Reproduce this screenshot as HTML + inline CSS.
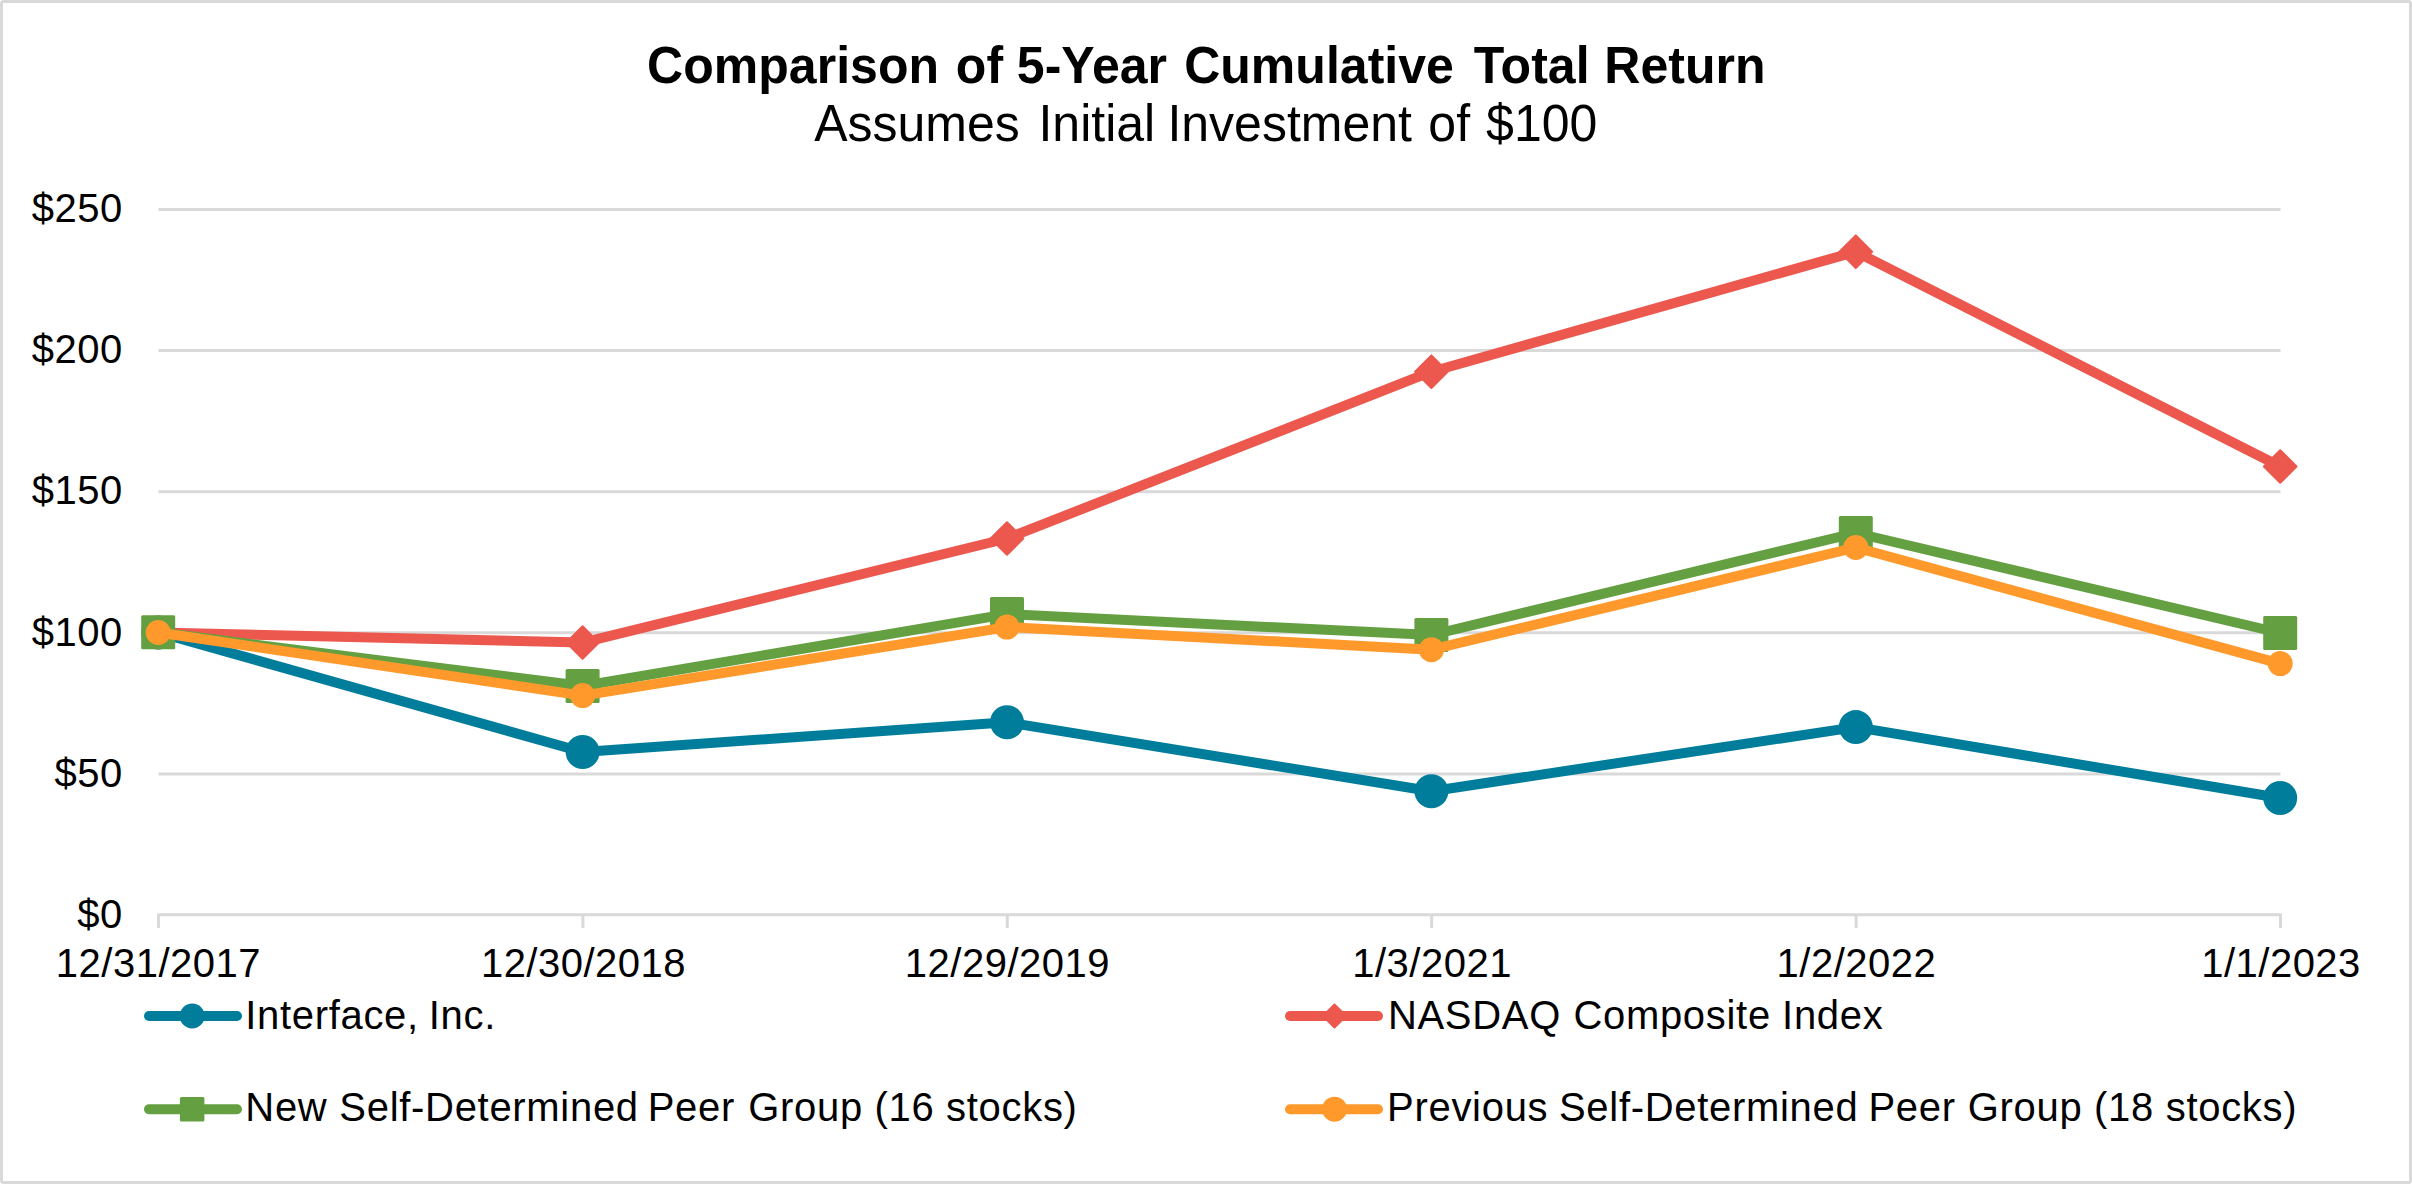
<!DOCTYPE html>
<html lang="en">
<head>
<meta charset="utf-8">
<title>Comparison of 5-Year Cumulative Total Return</title>
<style>
html,body{margin:0;padding:0;background:#fff;}
body{width:2412px;height:1184px;overflow:hidden;}
svg{display:block;}
text{font-family:"Liberation Sans",sans-serif;fill:#000;}
.t1{font-size:50px;font-weight:700;}
.t2{font-size:50px;}
.ax{font-size:40px;}
</style>
</head>
<body>
<svg width="2412" height="1184" viewBox="0 0 2412 1184">
<rect x="0" y="0" width="2412" height="1184" fill="#fff"/>
<rect x="1.5" y="1.5" width="2409" height="1181" rx="2" ry="2" fill="#fff" stroke="#d9d9d9" stroke-width="3"/>
<g stroke="#d9d9d9" stroke-width="3" fill="none">
<line x1="158.5" y1="209.5" x2="2280.5" y2="209.5"/>
<line x1="158.5" y1="350.6" x2="2280.5" y2="350.6"/>
<line x1="158.5" y1="491.7" x2="2280.5" y2="491.7"/>
<line x1="158.5" y1="632.8" x2="2280.5" y2="632.8"/>
<line x1="158.5" y1="773.9" x2="2280.5" y2="773.9"/>
<path d="M158.5 928 V914.8 H2280.5 V928" stroke-linejoin="round"/>
<line x1="582.9" y1="914.8" x2="582.9" y2="928"/>
<line x1="1007.3" y1="914.8" x2="1007.3" y2="928"/>
<line x1="1431.7" y1="914.8" x2="1431.7" y2="928"/>
<line x1="1856.1" y1="914.8" x2="1856.1" y2="928"/>
</g>
<g>
<polyline points="158.2,632.5 582.6,752.0 1007.0,722.3 1431.4,791.2 1855.8,727.1 2280.2,798.0" fill="none" stroke="#017d9c" stroke-width="10" stroke-linejoin="round" stroke-linecap="round"/>
<circle cx="158.2" cy="632.5" r="17.0" fill="#017d9c"/>
<circle cx="582.6" cy="752.0" r="17.0" fill="#017d9c"/>
<circle cx="1007.0" cy="722.3" r="17.0" fill="#017d9c"/>
<circle cx="1431.4" cy="791.2" r="17.0" fill="#017d9c"/>
<circle cx="1855.8" cy="727.1" r="17.0" fill="#017d9c"/>
<circle cx="2280.2" cy="798.0" r="17.0" fill="#017d9c"/>
</g>
<g>
<polyline points="158.2,632.5 582.6,642.6 1007.0,538.5 1431.4,371.7 1855.8,251.7 2280.2,466.5" fill="none" stroke="#ec584d" stroke-width="10" stroke-linejoin="round" stroke-linecap="round"/>
<path d="M158.2 616.2 L174.5 632.5 L158.2 648.8 L141.9 632.5 Z" fill="#ec584d" stroke="#ec584d" stroke-width="2" stroke-linejoin="round"/>
<path d="M582.6 626.3 L598.9 642.6 L582.6 658.9 L566.3 642.6 Z" fill="#ec584d" stroke="#ec584d" stroke-width="2" stroke-linejoin="round"/>
<path d="M1007.0 522.2 L1023.3 538.5 L1007.0 554.8 L990.7 538.5 Z" fill="#ec584d" stroke="#ec584d" stroke-width="2" stroke-linejoin="round"/>
<path d="M1431.4 355.4 L1447.7 371.7 L1431.4 388.0 L1415.1 371.7 Z" fill="#ec584d" stroke="#ec584d" stroke-width="2" stroke-linejoin="round"/>
<path d="M1855.8 235.4 L1872.1 251.7 L1855.8 268.0 L1839.5 251.7 Z" fill="#ec584d" stroke="#ec584d" stroke-width="2" stroke-linejoin="round"/>
<path d="M2280.2 450.2 L2296.5 466.5 L2280.2 482.8 L2263.9 466.5 Z" fill="#ec584d" stroke="#ec584d" stroke-width="2" stroke-linejoin="round"/>
</g>
<g>
<polyline points="158.2,632.3 582.6,686.0 1007.0,614.1 1431.4,635.0 1855.8,533.0 2280.2,633.0" fill="none" stroke="#64a042" stroke-width="10" stroke-linejoin="round" stroke-linecap="round"/>
<rect x="141.2" y="615.3" width="34.0" height="34.0" rx="1.5" fill="#64a042"/>
<rect x="565.6" y="669.0" width="34.0" height="34.0" rx="1.5" fill="#64a042"/>
<rect x="990.0" y="597.1" width="34.0" height="34.0" rx="1.5" fill="#64a042"/>
<rect x="1414.4" y="618.0" width="34.0" height="34.0" rx="1.5" fill="#64a042"/>
<rect x="1838.8" y="516.0" width="34.0" height="34.0" rx="1.5" fill="#64a042"/>
<rect x="2263.2" y="616.0" width="34.0" height="34.0" rx="1.5" fill="#64a042"/>
</g>
<g>
<polyline points="158.2,632.5 582.6,695.6 1007.0,627.1 1431.4,649.7 1855.8,547.5 2280.2,663.6" fill="none" stroke="#ff992b" stroke-width="10" stroke-linejoin="round" stroke-linecap="round"/>
<circle cx="158.2" cy="632.5" r="12.5" fill="#ff992b"/>
<circle cx="582.6" cy="695.6" r="12.5" fill="#ff992b"/>
<circle cx="1007.0" cy="627.1" r="12.5" fill="#ff992b"/>
<circle cx="1431.4" cy="649.7" r="12.5" fill="#ff992b"/>
<circle cx="1855.8" cy="547.5" r="12.5" fill="#ff992b"/>
<circle cx="2280.2" cy="663.6" r="12.5" fill="#ff992b"/>
</g>
<line x1="149" y1="1016" x2="237" y2="1016" stroke="#017d9c" stroke-width="10" stroke-linecap="round"/>
<circle cx="192.2" cy="1016.0" r="12.5" fill="#017d9c"/>
<line x1="1290" y1="1016" x2="1378" y2="1016" stroke="#ec584d" stroke-width="10" stroke-linecap="round"/>
<path d="M1334.5 1004.5 L1346.0 1016.0 L1334.5 1027.5 L1323.0 1016.0 Z" fill="#ec584d" stroke="#ec584d" stroke-width="2" stroke-linejoin="round"/>
<line x1="149" y1="1109.2" x2="237" y2="1109.2" stroke="#64a042" stroke-width="10" stroke-linecap="round"/>
<rect x="179.9" y="1097.0" width="24.5" height="24.5" rx="1.5" fill="#64a042"/>
<line x1="1290" y1="1109.2" x2="1378" y2="1109.2" stroke="#ff992b" stroke-width="10" stroke-linecap="round"/>
<circle cx="1334.5" cy="1109.2" r="12.5" fill="#ff992b"/>
<text class="t1" y="83.0" transform="matrix(1 0 0 1.030 0 -2.490)"><tspan x="647.09" letter-spacing="0.03">Comparison</tspan> <tspan x="955.81" letter-spacing="0.03">of</tspan> <tspan x="1016.83" letter-spacing="0.03">5-Year</tspan> <tspan x="1184.14" letter-spacing="0.03">Cumulative</tspan> <tspan x="1473.72" letter-spacing="0.03">Total</tspan> <tspan x="1604.35" letter-spacing="0.03">Return</tspan></text>
<text class="t2" y="141.2" transform="matrix(1 0 0 1.030 0 -4.236)"><tspan x="814.15" letter-spacing="0.00">Assumes</tspan> <tspan x="1038.45" letter-spacing="0.00">Initial</tspan> <tspan x="1167.42" letter-spacing="0.00">Investment</tspan> <tspan x="1428.38" letter-spacing="0.00">of</tspan> <tspan x="1486.08" letter-spacing="0.00">$100</tspan></text>
<text class="ax" y="222.3" transform="matrix(1 0 0 1.030 0 -6.669)"><tspan x="31.80" letter-spacing="0.50">$250</tspan></text>
<text class="ax" y="363.4" transform="matrix(1 0 0 1.030 0 -10.902)"><tspan x="31.80" letter-spacing="0.50">$200</tspan></text>
<text class="ax" y="504.5" transform="matrix(1 0 0 1.030 0 -15.135)"><tspan x="31.80" letter-spacing="0.50">$150</tspan></text>
<text class="ax" y="645.6" transform="matrix(1 0 0 1.030 0 -19.368)"><tspan x="31.80" letter-spacing="0.50">$100</tspan></text>
<text class="ax" y="786.7" transform="matrix(1 0 0 1.030 0 -23.601)"><tspan x="54.55" letter-spacing="0.50">$50</tspan></text>
<text class="ax" y="927.8" transform="matrix(1 0 0 1.030 0 -27.834)"><tspan x="77.30" letter-spacing="0.50">$0</tspan></text>
<text class="ax" y="977.2" transform="matrix(1 0 0 1.030 0 -29.316)"><tspan x="55.82" letter-spacing="0.50">12/31/2017</tspan></text>
<text class="ax" y="977.2" transform="matrix(1 0 0 1.030 0 -29.316)"><tspan x="480.90" letter-spacing="0.50">12/30/2018</tspan></text>
<text class="ax" y="977.2" transform="matrix(1 0 0 1.030 0 -29.316)"><tspan x="904.88" letter-spacing="0.50">12/29/2019</tspan></text>
<text class="ax" y="977.2" transform="matrix(1 0 0 1.030 0 -29.316)"><tspan x="1352.28" letter-spacing="0.50">1/3/2021</tspan></text>
<text class="ax" y="977.2" transform="matrix(1 0 0 1.030 0 -29.316)"><tspan x="1776.58" letter-spacing="0.50">1/2/2022</tspan></text>
<text class="ax" y="977.2" transform="matrix(1 0 0 1.030 0 -29.316)"><tspan x="2201.20" letter-spacing="0.50">1/1/2023</tspan></text>
<text class="ax" y="1029.2" transform="matrix(1 0 0 1.030 0 -30.876)"><tspan x="245.15" letter-spacing="0.70">Interface,</tspan> <tspan x="428.70" letter-spacing="0.70">Inc.</tspan></text>
<text class="ax" y="1029.2" transform="matrix(1 0 0 1.030 0 -30.876)"><tspan x="1387.92" letter-spacing="0.70">NASDAQ</tspan> <tspan x="1573.40" letter-spacing="0.70">Composite</tspan> <tspan x="1782.10" letter-spacing="0.70">Index</tspan></text>
<text class="ax" y="1121.4" transform="matrix(1 0 0 1.030 0 -33.642)"><tspan x="245.32" letter-spacing="0.70">New</tspan> <tspan x="339.35" letter-spacing="0.70">Self-Determined</tspan> <tspan x="647.70" letter-spacing="0.70">Peer</tspan> <tspan x="748.30" letter-spacing="0.70">Group</tspan> <tspan x="874.50" letter-spacing="0.70">(16</tspan> <tspan x="946.10" letter-spacing="0.70">stocks)</tspan></text>
<text class="ax" y="1121.4" transform="matrix(1 0 0 1.030 0 -33.642)"><tspan x="1387.10" letter-spacing="0.70">Previous</tspan> <tspan x="1559.00" letter-spacing="0.70">Self-Determined</tspan> <tspan x="1868.45" letter-spacing="0.70">Peer</tspan> <tspan x="1967.80" letter-spacing="0.70">Group</tspan> <tspan x="2094.00" letter-spacing="0.70">(18</tspan> <tspan x="2165.70" letter-spacing="0.70">stocks)</tspan></text>
</svg>
</body>
</html>
